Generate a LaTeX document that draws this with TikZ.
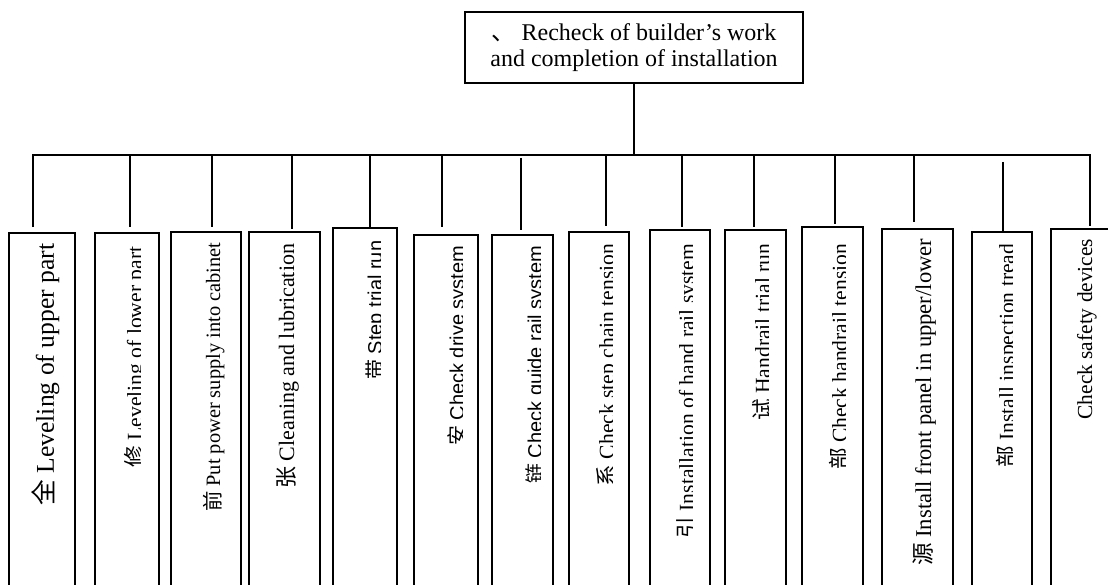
\documentclass[tikz,border=0pt]{standalone}
\usepackage{fontspec}
\setmainfont{Liberation Serif}
\setsansfont{Liberation Sans}
\newfontfamily\cjk{Noto Sans CJK SC}
\usetikzlibrary{positioning}

\tikzset{
  headbox/.style={draw,line width=0.9pt,minimum width=169,minimum height=35.5,
    align=center,inner sep=0pt,font=\fontsize{12}{13}\selectfont},
  colbox/.style={draw,line width=0.9pt,inner sep=0pt},
  lbl/.style={rotate=90,anchor=base east,inner sep=0pt}
}

\begin{document}
\begin{tikzpicture}[x=0.5pt,y=0.5pt,line width=0.8pt]
    \clip (0,0) rectangle (1108,584);
    % heading
    \node[headbox] (head) at (634,536.5) {{\cjk 、} Recheck of builder’s work\\and completion of installation};
    % columns, running off the page at the bottom
    \foreach \n/\cx/\cy/\w/\h in {1/42/167.5/33/183.5, 2/127/167.5/32/183.5,
        3/206/168/35/184, 4/284.5/168/35.5/184, 5/365/170/32/186,
        6/446/166.5/32/182.5, 7/522.5/166.5/30.5/182.5, 8/599/168/30/184,
        9/680/169/30/185, 10/755.5/169/30.5/185, 11/832.5/170.5/30.5/186.5,
        12/917.5/169.5/35.5/185.5, 13/1002/168/30/184, 14/1085/169.5/34/185.5} {
      \node[colbox,minimum width=\w,minimum height=\h] (b\n) at (\cx,\cy) {};
    }
    % bus junctions
    \foreach \n/\dx in {1/33,2/130,3/212,4/292,5/370,6/442,7/521,
        8/606,9/682,10/754,11/835,12/914,13/1003,14/1090} {
      \coordinate (j\n) at (\dx,429);
    }
    \draw (head.south) -- (head.south |- j1);
    \draw[shorten <=2.5pt,shorten >=1pt] (j1 |- b1.north) -- (j1) -- (j14) -- (j14 |- b14.north);
    \foreach \n/\s/\e in {2/0/2.5,3/0/2,4/0/1,5/0/0,6/0/3.5,7/1.5/2,
        8/0/2.5,9/0/1,10/0/1,11/0/1,12/0/3,13/3.5/0} {
      \draw[shorten <=\s pt,shorten >=\e pt] (j\n) -- (j\n |- b\n.north);
    }
    % labels
    \node[lbl,font=\fontsize{12.8}{14}\selectfont] (t1) at (54,341) {{\cjk 全} Leveling of upper part};
    \node[lbl,font=\fontsize{10.2}{12}\selectfont] (t3) at (220,342) {{\cjk 前} Put power supply into cabinet};
    \node[lbl,font=\fontsize{11}{13}\selectfont] (t4) at (294,341) {{\cjk 张} Cleaning and lubrication};
    \node[lbl,font=\fontsize{11.3}{13}\selectfont] (t12) at (931,346) {{\cjk 源} Install front panel in upper/lower};
    \node[lbl,font=\fontsize{10.7}{13}\selectfont] (t14) at (1092,346) {Check safety devices};
    % labels cut off just above their baseline
    \foreach \n/\bx/\ty/\txt in {2/140/338/{{\cjk 修} Leveling of lower part},
        5/380/344/{\sffamily\fontsize{10}{12}\selectfont{\cjk 带} Step trial run},
        6/462/339/{\sffamily\fontsize{10}{12}\selectfont{\cjk 安} Check drive system},
        7/540/339/{\sffamily\fontsize{10}{12}\selectfont{\cjk 链} Check guide rail system},
        8/612/341/{{\cjk 系} Check step chain tension},
        9/692/341/{{\cjk 引} Installation of hand rail system},
        10/768/341/{{\cjk 试} Handrail trial run},
        11/845/341/{{\cjk 部} Check handrail tension},
        13/1012/341/{{\cjk 部} Install inspection tread}} {
      \begin{scope}
        \clip (b\n.south west) rectangle (\bx,584);
        \node[lbl,font=\fontsize{10.8}{13}\selectfont] (t\n) at (\bx+2,\ty) {\txt};
      \end{scope}
    }
\end{tikzpicture}
\end{document}
